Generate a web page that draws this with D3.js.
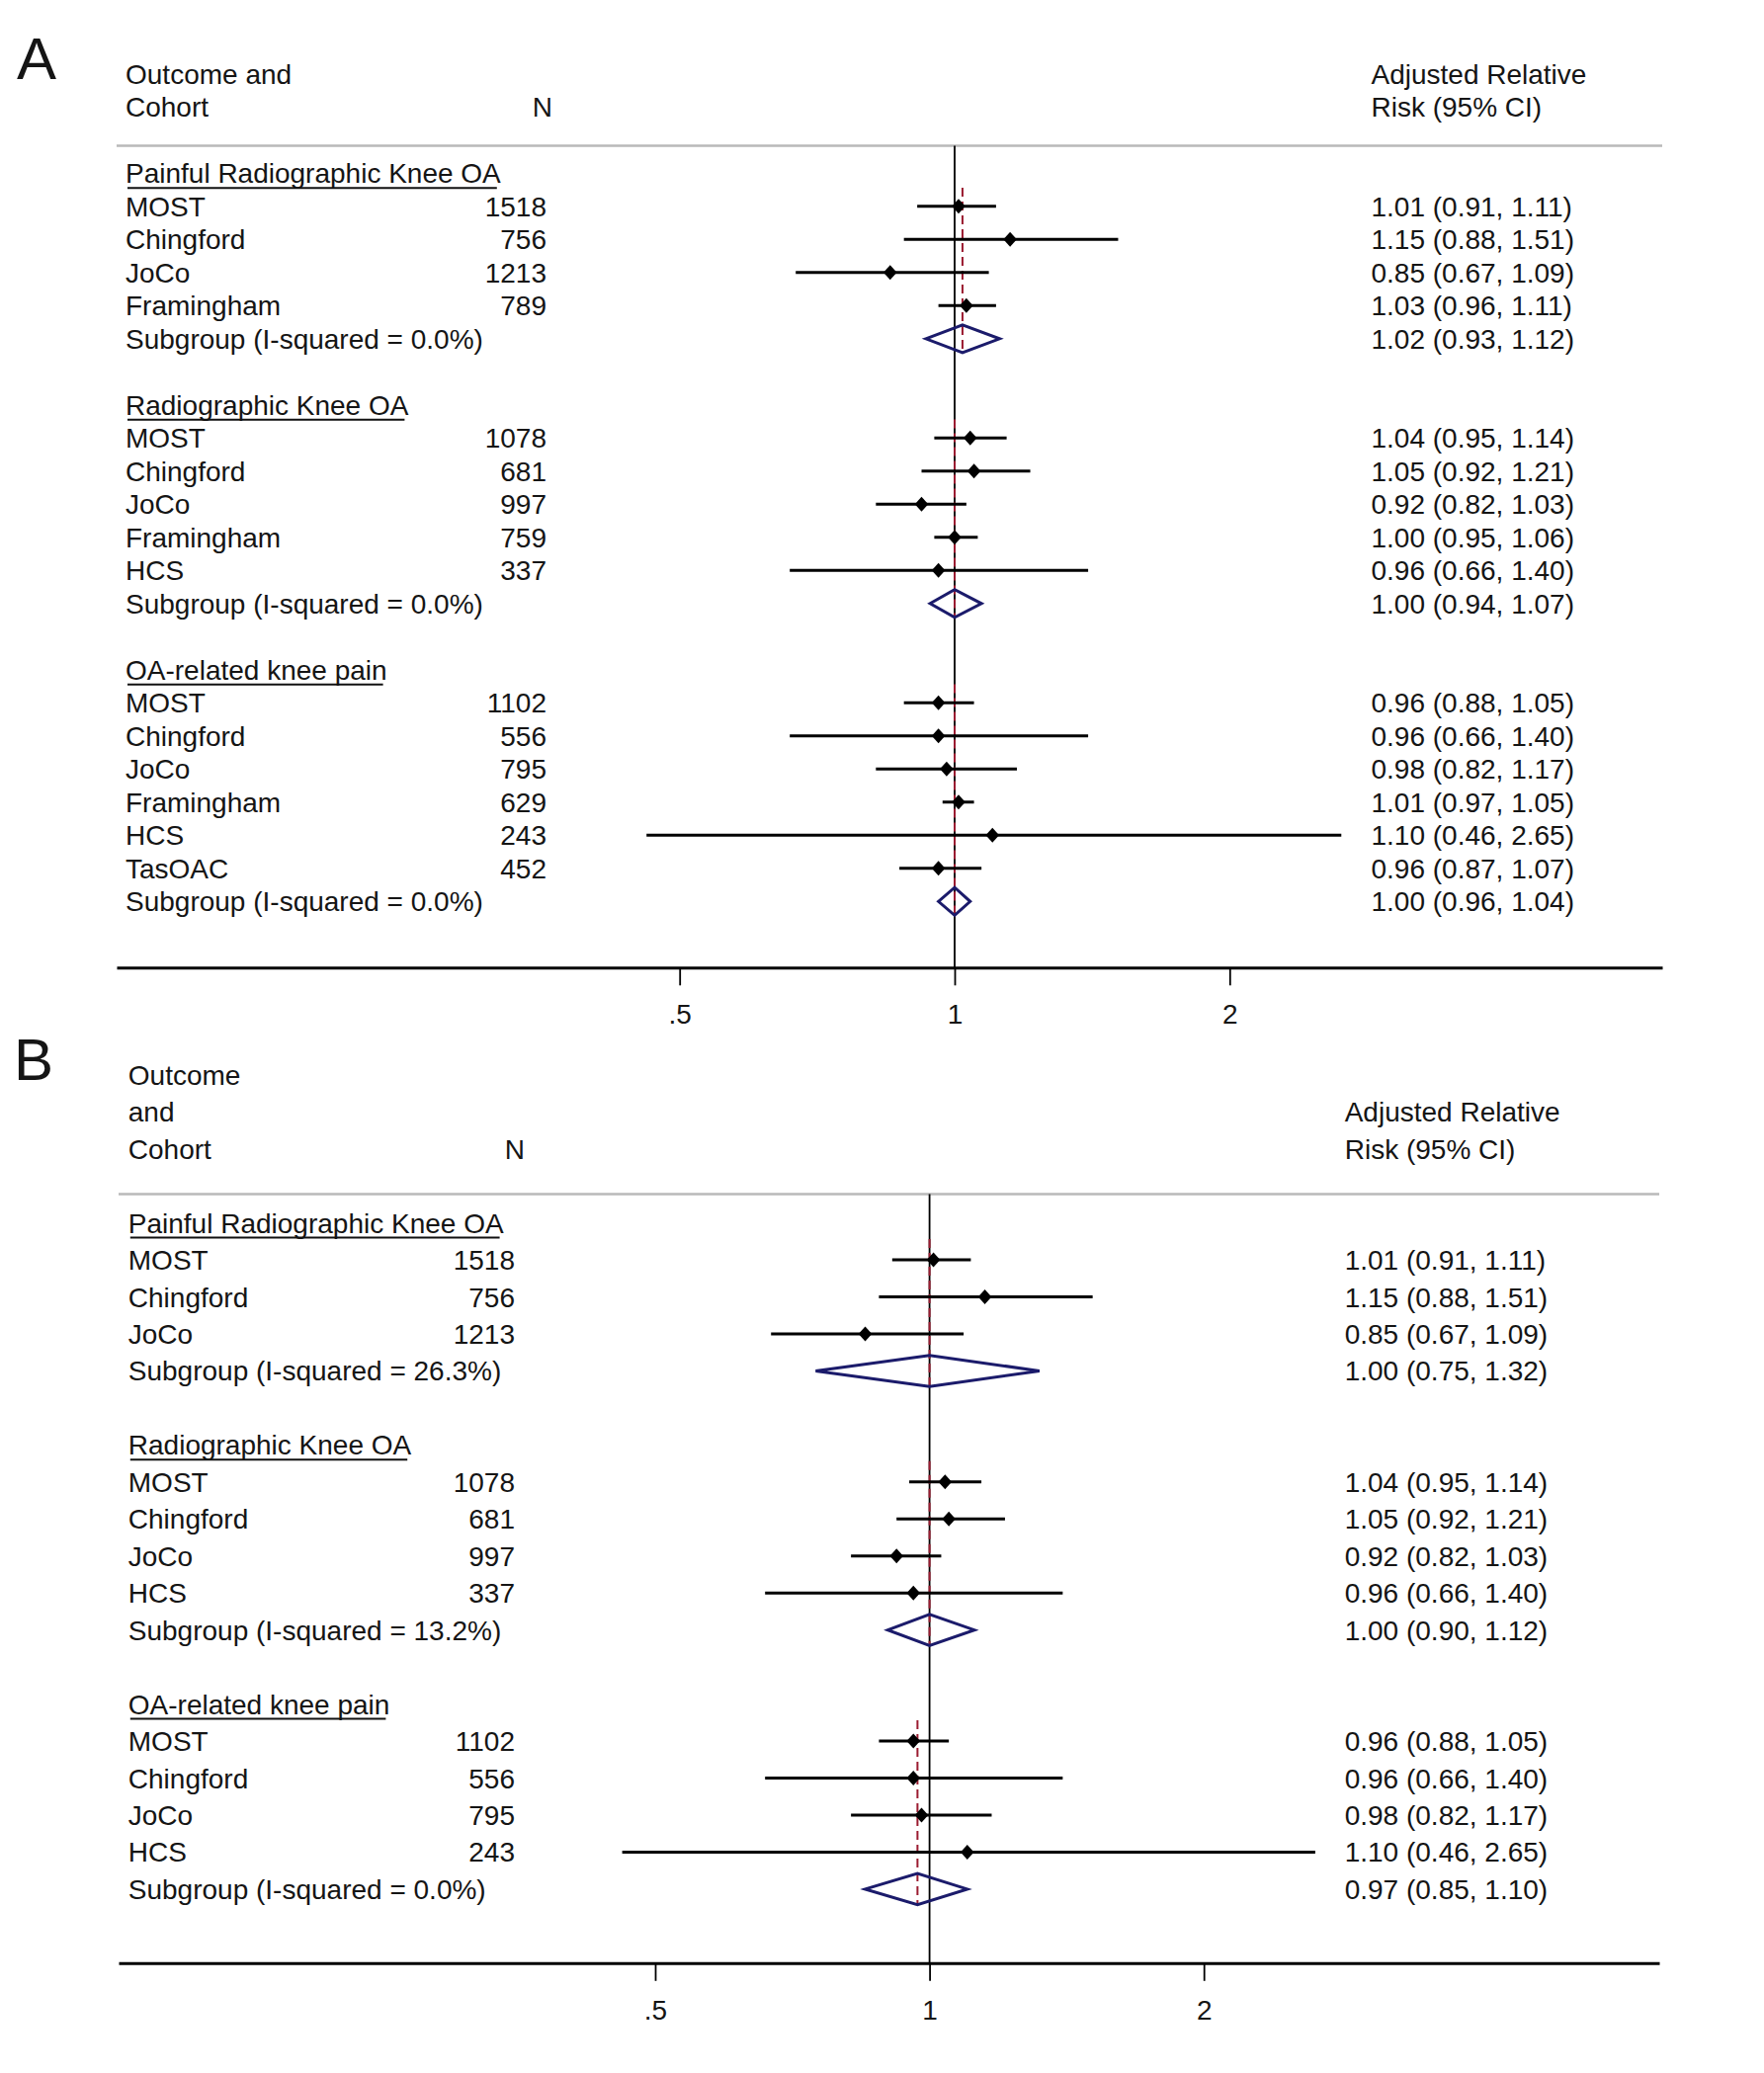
<!DOCTYPE html>
<html lang="en">
<head>
  <meta charset="UTF-8">
  <title>Forest plots</title>
  <script src="https://d3js.org/d3.v7.min.js"></script>
  <style>
    body { margin: 0; background: #fff; }
    svg { display: block; background: #fff; }
    text { font-family: "Liberation Sans", Arial, sans-serif; fill: #151515; }
    .lbl { font-size: 28px; }
    .panel-letter { font-size: 60px; }
    .axis text { font-size: 28px; font-family: "Liberation Sans", Arial, sans-serif; fill: #151515; }
  </style>
</head>
<body>
  <svg width="1785" height="2098"></svg>
  <script>
    // outcomes shown in both panels
    const outcomes = ["Painful Radiographic Knee OA", "Radiographic Knee OA", "OA-related knee pain"];

    // Panel A
    const cohortsA = [
      ["MOST", "Chingford", "JoCo", "Framingham"],
      ["MOST", "Chingford", "JoCo", "Framingham", "HCS"],
      ["MOST", "Chingford", "JoCo", "Framingham", "HCS", "TasOAC"]
    ];
    const nA = [[1518, 756, 1213, 789], [1078, 681, 997, 759, 337], [1102, 556, 795, 629, 243, 452]];
    const rrA = [[1.01, 1.15, 0.85, 1.03], [1.04, 1.05, 0.92, 1.00, 0.96], [0.96, 0.96, 0.98, 1.01, 1.10, 0.96]];
    const lowA = [[0.91, 0.88, 0.67, 0.96], [0.95, 0.92, 0.82, 0.95, 0.66], [0.88, 0.66, 0.82, 0.97, 0.46, 0.87]];
    const highA = [[1.11, 1.51, 1.09, 1.11], [1.14, 1.21, 1.03, 1.06, 1.40], [1.05, 1.40, 1.17, 1.05, 2.65, 1.07]];
    const isqA = ["0.0", "0.0", "0.0"];
    const pooledA = [1.02, 1.00, 1.00];
    const pooledLowA = [0.93, 0.94, 0.96];
    const pooledHighA = [1.12, 1.07, 1.04];

    // Panel B
    const cohortsB = [
      ["MOST", "Chingford", "JoCo"],
      ["MOST", "Chingford", "JoCo", "HCS"],
      ["MOST", "Chingford", "JoCo", "HCS"]
    ];
    const nB = [[1518, 756, 1213], [1078, 681, 997, 337], [1102, 556, 795, 243]];
    const rrB = [[1.01, 1.15, 0.85], [1.04, 1.05, 0.92, 0.96], [0.96, 0.96, 0.98, 1.10]];
    const lowB = [[0.91, 0.88, 0.67], [0.95, 0.92, 0.82, 0.66], [0.88, 0.66, 0.82, 0.46]];
    const highB = [[1.11, 1.51, 1.09], [1.14, 1.21, 1.03, 1.40], [1.05, 1.40, 1.17, 2.65]];
    const isqB = ["26.3", "13.2", "0.0"];
    const pooledB = [1.00, 1.00, 0.97];
    const pooledLowB = [0.75, 0.90, 0.85];
    const pooledHighB = [1.32, 1.12, 1.10];

    const tickValues = [0.5, 1, 2];
    const tickLabels = [".5", "1", "2"];

    const svg = d3.select("svg");
    const fmt = d3.format(".2f");

    function drawPanel(cfg, d) {
      const g = svg.append("g");
      const rowY = i => cfg.row0 + i * cfg.rowH;

      // log scale pinned by where .5 and 2 sit, then widened to the axis line
      const x = d3.scaleLog().domain([0.5, 2]).range([cfg.x1 - cfg.perLog2, cfg.x1 + cfg.perLog2]);
      x.domain([x.invert(cfg.left), x.invert(cfg.right)]).range([cfg.left, cfg.right]);

      // rows
      const rows = [];
      let r = 0;
      outcomes.forEach((name, gi) => {
        rows.push({ type: "head", name, i: r++ });
        const first = r;
        d.cohorts[gi].forEach((c, k) => {
          rows.push({ type: "study", name: c, n: d.n[gi][k], rr: d.rr[gi][k], lo: d.low[gi][k], hi: d.high[gi][k], i: r++ });
        });
        rows.push({ type: "pool", name: `Subgroup (I-squared = ${d.isq[gi]}%)`, rr: d.pooled[gi], lo: d.pooledLow[gi], hi: d.pooledHigh[gi], i: r, first });
        r += 2;
      });
      const axisY = rowY(r);

      g.append("text").attr("class", "panel-letter")
        .attr("x", cfg.letterX).attr("y", cfg.letterY).text(cfg.letter);

      // header
      const nh = cfg.header.length;
      cfg.header.forEach((t, k) => {
        g.append("text").attr("class", "lbl")
          .attr("x", cfg.labelX).attr("y", rowY(k - nh - 1) + 10).text(t);
      });
      g.append("text").attr("class", "lbl").attr("text-anchor", "end")
        .attr("x", cfg.nHeadX).attr("y", rowY(-2) + 10).text("N");
      g.append("text").attr("class", "lbl")
        .attr("x", cfg.effX).attr("y", rowY(-3) + 10).text("Adjusted Relative");
      g.append("text").attr("class", "lbl")
        .attr("x", cfg.effX).attr("y", rowY(-2) + 10).text("Risk (95% CI)");

      g.append("line")
        .attr("x1", cfg.left).attr("x2", cfg.right)
        .attr("y1", cfg.grayY).attr("y2", cfg.grayY)
        .attr("stroke", "#b9b9b9").attr("stroke-width", 2.5);

      // null line
      g.append("line")
        .attr("x1", x(1)).attr("x2", x(1))
        .attr("y1", cfg.grayY).attr("y2", axisY)
        .attr("stroke", "#000").attr("stroke-width", 1.8);

      const diamH = cfg.rowH * 0.42;

      // pooled estimate dashed lines
      rows.filter(o => o.type === "pool").forEach(o => {
        g.append("line")
          .attr("x1", x(o.rr)).attr("x2", x(o.rr))
          .attr("y1", rowY(o.first) - cfg.rowH * 0.56)
          .attr("y2", rowY(o.i) + diamH)
          .attr("stroke", "#9b1c31").attr("stroke-width", 2)
          .attr("stroke-dasharray", "9,5");
      });

      rows.forEach(o => {
        const y = rowY(o.i);
        const t = g.append("text").attr("class", "lbl")
          .attr("x", cfg.labelX).attr("y", y + 10).text(o.name);
        if (o.type === "head") {
          const w = t.node().getComputedTextLength();
          g.append("line")
            .attr("x1", cfg.labelX + 2).attr("x2", cfg.labelX + w - 4)
            .attr("y1", y + 15).attr("y2", y + 15)
            .attr("stroke", "#111").attr("stroke-width", 2);
          return;
        }
        if (o.type === "study") {
          g.append("text").attr("class", "lbl").attr("text-anchor", "end")
            .attr("x", cfg.nX).attr("y", y + 10).text(o.n);
          g.append("line")
            .attr("x1", x(o.lo)).attr("x2", x(o.hi))
            .attr("y1", y).attr("y2", y)
            .attr("stroke", "#000").attr("stroke-width", 3);
          const cx = x(o.rr);
          g.append("path")
            .attr("d", `M${cx},${y - 7.5}L${cx + 6.8},${y}L${cx},${y + 7.5}L${cx - 6.8},${y}Z`)
            .attr("fill", "#000");
        } else {
          const cx = x(o.rr);
          g.append("path")
            .attr("d", `M${x(o.lo)},${y}L${cx},${y - diamH}L${x(o.hi)},${y}L${cx},${y + diamH}Z`)
            .attr("fill", "none").attr("stroke", "#1b1b6b").attr("stroke-width", 3)
            .attr("stroke-linejoin", "miter");
        }
        g.append("text").attr("class", "lbl")
          .attr("x", cfg.effX).attr("y", y + 10)
          .text(`${fmt(o.rr)} (${fmt(o.lo)}, ${fmt(o.hi)})`);
      });

      // x axis
      const axis = d3.axisBottom(x)
        .tickValues(tickValues)
        .tickFormat((v, i) => tickLabels[i])
        .tickSizeInner(18).tickSizeOuter(0).tickPadding(19);
      const ax = g.append("g").attr("class", "axis")
        .attr("transform", `translate(0,${axisY})`)
        .call(axis);
      ax.select(".domain").attr("stroke", "#000").attr("stroke-width", 3);
      ax.selectAll(".tick line").attr("stroke", "#000").attr("stroke-width", 1.8);
    }

    drawPanel({
      letter: "A", letterX: 17, letterY: 80,
      header: ["Outcome and", "Cohort"],
      row0: 175.3, rowH: 33.5, grayY: 147.5,
      left: 118, right: 1682, x1: 966, perLog2: 278.3,
      labelX: 127, nX: 553, nHeadX: 559, effX: 1387.5
    }, {
      cohorts: cohortsA, n: nA, rr: rrA, low: lowA, high: highA,
      isq: isqA, pooled: pooledA, pooledLow: pooledLowA, pooledHigh: pooledHighA
    });

    drawPanel({
      letter: "B", letterX: 14, letterY: 1093,
      header: ["Outcome", "and", "Cohort"],
      row0: 1237.6, rowH: 37.46, grayY: 1208.5,
      left: 120, right: 1679, x1: 940.6, perLog2: 277.6,
      labelX: 129.8, nX: 521, nHeadX: 531, effX: 1360.7
    }, {
      cohorts: cohortsB, n: nB, rr: rrB, low: lowB, high: highB,
      isq: isqB, pooled: pooledB, pooledLow: pooledLowB, pooledHigh: pooledHighB
    });
  </script>
</body>
</html>
